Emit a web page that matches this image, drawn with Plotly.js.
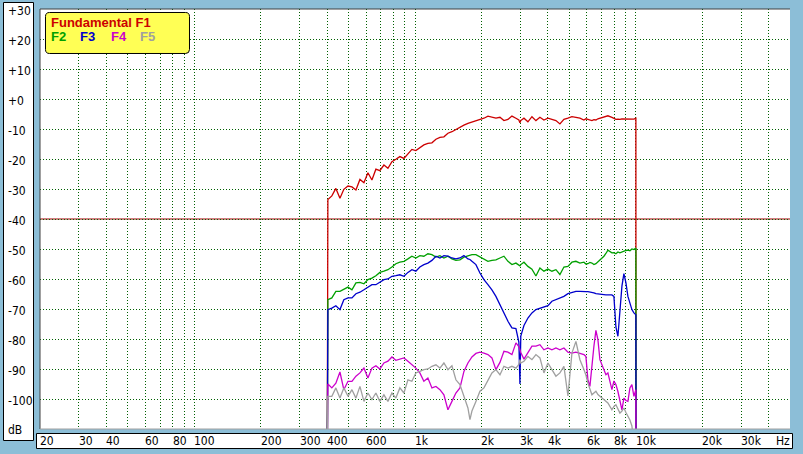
<!DOCTYPE html>
<html>
<head>
<meta charset="utf-8">
<script src="https://cdn.plot.ly/plotly-3.0.1.min.js"></script>
<style>
  html, body { margin: 0; padding: 0; background: #8cbed7; }
  #chart { width: 803px; height: 454px; }
</style>
</head>
<body>
<div id="chart"></div>
<script>
// ---- data (frequency in Hz, level in dB) ----
const freqs = [400,
  403,420,438,457,476,497,518,540,563,587,
  612,638,665,693,723,754,786,819,854,891,
  929,968,1009,1052,1097,1144,1193,1244,1297,1352,
  1410,1470,1532,1598,1666,1737,1774,1811,1888,1969,
  2053,2140,2231,2326,2426,2529,2637,2749,2866,2955,
  2988,3015,3116,3248,3387,3531,3681,3838,4002,4172,
  4350,4535,4728,4930,5140,5359,5587,5825,5947,6073,
  6200,6332,6465,6601,6740,6883,7176,7327,7481,7800,
  7965,8133,8305,8479,8660,8840,9029,9217,9413,9609,
  9813,10018,
  10030];

const f1 = [-130,
  -33.5,-32.3,-29.8,-33.1,-30.1,-29.0,-29.3,-30.3,-26.8,-27.9,
  -24.6,-27.0,-23.4,-23.9,-22.0,-23.1,-20.9,-20.1,-19.2,-19.8,
  -18.3,-16.8,-17.2,-16.1,-15.3,-14.8,-14.6,-13.4,-12.8,-12.6,
  -11.4,-10.9,-10.1,-9.4,-8.7,-8.1,-7.9,-7.6,-7.2,-6.8,
  -6.4,-5.7,-6.1,-6.4,-6.1,-7.2,-6.8,-5.7,-6.4,-7.0,
  -7.9,-7.2,-6.4,-7.6,-5.9,-7.2,-6.1,-7.0,-6.4,-6.8,
  -7.2,-8.3,-6.8,-6.4,-5.9,-6.1,-6.4,-7.0,-6.6,-6.8,
  -7.0,-7.2,-6.9,-7.0,-6.6,-6.4,-6.1,-5.8,-5.6,-6.1,
  -6.5,-6.8,-6.7,-6.8,-6.6,-6.6,-6.7,-6.6,-6.7,-6.8,
  -6.7,-6.4,
  -130];

const f2 = [-130,
  -66.9,-66.3,-64.1,-64.1,-63.3,-62.7,-63.6,-61.3,-61.1,-61.6,
  -60.2,-59.7,-58.9,-57.8,-57.4,-56.9,-56.0,-54.9,-54.4,-54.1,
  -53.3,-52.4,-53.0,-52.2,-52.4,-51.6,-51.9,-52.7,-52.2,-53.0,
  -52.4,-53.3,-53.8,-53.6,-52.7,-52.2,-52.0,-51.9,-51.9,-52.7,
  -53.6,-54.1,-53.8,-53.6,-53.0,-52.4,-54.1,-55.2,-54.7,-55.3,
  -55.6,-55.2,-54.4,-55.8,-56.7,-59.0,-56.3,-57.4,-56.7,-57.4,
  -56.9,-58.5,-56.0,-55.8,-54.4,-54.1,-54.7,-54.4,-55.0,-54.9,
  -54.5,-54.7,-55.2,-54.9,-54.3,-53.6,-52.4,-51.5,-50.4,-51.3,
  -51.2,-51.6,-51.0,-51.3,-51.0,-50.8,-50.5,-50.4,-50.6,-50.0,
  -50.2,-49.7,
  -130];

const f3 = [-130,
  -70.2,-69.7,-68.9,-70.2,-66.9,-66.3,-66.3,-64.9,-64.4,-63.6,
  -62.7,-61.9,-61.9,-61.1,-60.2,-60.0,-59.1,-58.9,-58.6,-59.1,
  -57.8,-56.9,-57.4,-56.0,-55.2,-54.7,-53.8,-52.4,-53.0,-52.2,
  -52.4,-53.0,-53.3,-53.0,-52.2,-53.3,-53.5,-54.1,-55.2,-58.0,
  -60.2,-61.9,-63.6,-65.8,-68.6,-70.8,-74.1,-76.3,-76.5,-81.0,
  -95.0,-79.0,-75.5,-73.0,-71.3,-70.2,-69.7,-69.3,-68.9,-67.4,
  -66.9,-66.3,-65.8,-64.9,-64.4,-64.1,-64.1,-64.3,-64.2,-64.2,
  -64.3,-64.4,-64.6,-64.9,-65.0,-65.2,-65.2,-65.3,-65.3,-65.3,
  -65.8,-76.0,-79.1,-71.3,-62.4,-58.2,-61.3,-65.8,-68.5,-70.2,
  -71.3,-71.9,
  -130];

const f4 = [-130,
  -95.0,-96.3,-94.7,-91.0,-96.9,-94.1,-94.1,-92.4,-91.3,-89.7,
  -93.0,-89.7,-88.9,-90.0,-88.0,-87.4,-86.0,-87.1,-86.7,-86.3,
  -87.4,-88.6,-89.7,-91.3,-94.1,-93.0,-96.3,-95.8,-96.9,-98.6,
  -103.6,-100.8,-98.0,-96.3,-90.8,-88.0,-87.0,-86.0,-84.8,-84.4,
  -84.7,-85.2,-86.3,-90.2,-87.8,-84.1,-84.4,-85.2,-81.3,-82.5,
  -83.6,-84.5,-86.7,-84.7,-82.4,-82.4,-81.9,-83.6,-83.0,-83.6,
  -83.0,-83.6,-83.0,-84.4,-84.7,-84.4,-84.7,-85.2,-85.8,-93.6,
  -95.8,-88.0,-82.4,-77.1,-80.2,-86.9,-90.2,-91.9,-91.3,-96.9,
  -94.0,-95.2,-97.5,-100.2,-103.6,-99.7,-100.5,-100.8,-96.3,-95.2,
  -99.1,-96.9,
  -130];

const f5 = [-130,
  -99.1,-99.1,-96.3,-99.7,-96.3,-99.1,-96.9,-99.7,-95.8,-100.8,
  -98.0,-100.2,-98.0,-100.8,-98.6,-100.8,-98.0,-99.7,-96.3,-98.0,
  -93.6,-94.1,-91.3,-90.8,-90.2,-90.0,-89.1,-88.6,-89.7,-88.0,
  -90.2,-88.9,-93.6,-95.2,-99.1,-103.0,-106.9,-104.0,-100.8,-97.4,
  -96.3,-93.6,-91.3,-90.2,-91.9,-89.1,-89.7,-89.1,-89.7,-88.5,
  -86.9,-88.0,-87.4,-85.8,-86.9,-85.2,-86.3,-91.3,-88.0,-90.2,
  -92.4,-91.3,-89.1,-99.0,-84.7,-80.8,-86.9,-90.2,-92.0,-94.7,
  -96.5,-98.6,-98.0,-97.4,-98.5,-99.1,-100.2,-100.8,-101.3,-103.6,
  -102.5,-101.9,-103.5,-104.7,-104.0,-103.0,-104.5,-105.8,-107.0,-109.0,
  -115.0,-130.0,
  -130];

const seriesNames = ['Fundamental F1', 'F2', 'F3', 'F4', 'F5'];
const seriesColors = ['#cc0000', '#00a000', '#0000cc', '#cc00cc', '#a0a0a0'];

const xGridHz = [20,30,40,50,60,70,80,90,100,200,300,400,500,600,700,800,900,
                 1000,2000,3000,4000,5000,6000,7000,8000,9000,10000,20000,30000,40000,50000];
const xLabelHz = [20,30,40,60,80,100,200,300,400,600,1000,2000,3000,4000,6000,8000,10000,20000,30000];
const xLabelText = ['20','30','40','60','80','100','200','300','400','600','1k','2k','3k','4k','6k','8k','10k','20k','30k'];
const yTickDb = [30,20,10,0,-10,-20,-30,-40,-50,-60,-70,-80,-90,-100];
const yLabelText = ['+30','+20','+10','+0','-10','-20','-30','-40','-50','-60','-70','-80','-90','-100'];
const referenceDb = -40;

// ---- layout helpers (pixel -> paper) ----
const W = 803, H = 454, ML = 40, MR = 13, MT = 9, MB = 25;
const PW = W - ML - MR, PH = H - MT - MB;
const px = p => (p - ML) / PW;
const py = p => (H - MB - p) / PH;

const traces = [f1, f2, f3, f4, f5].map((ys, i) => ({
  type: 'scatter', mode: 'lines', x: freqs, y: ys, name: seriesNames[i],
  line: { color: seriesColors[i], width: 1.3 }, hoverinfo: 'skip'
}));

function roundRect(x0, y0, x1, y1, r) {
  const X = v => px(v).toFixed(5), Y = v => py(v).toFixed(5);
  return 'M' + X(x0 + r) + ',' + Y(y0) + ' L' + X(x1 - r) + ',' + Y(y0) +
    ' Q' + X(x1) + ',' + Y(y0) + ' ' + X(x1) + ',' + Y(y0 + r) +
    ' L' + X(x1) + ',' + Y(y1 - r) +
    ' Q' + X(x1) + ',' + Y(y1) + ' ' + X(x1 - r) + ',' + Y(y1) +
    ' L' + X(x0 + r) + ',' + Y(y1) +
    ' Q' + X(x0) + ',' + Y(y1) + ' ' + X(x0) + ',' + Y(y1 - r) +
    ' L' + X(x0) + ',' + Y(y0 + r) +
    ' Q' + X(x0) + ',' + Y(y0) + ' ' + X(x0 + r) + ',' + Y(y0) + ' Z';
}

const narrow = 'Liberation Sans Narrow, Arial Narrow, DejaVu Sans Condensed, Liberation Sans, sans-serif';
const shapes = [
  // reference line
  { type: 'line', xref: 'paper', x0: 0, x1: 1, yref: 'y', y0: referenceDb, y1: referenceDb,
    line: { color: '#a00000', width: 1 }, layer: 'below' },
  // plot frame (sunken)
  { type: 'line', xref: 'paper', yref: 'paper', x0: 0, x1: 1, y0: 1, y1: 1, line: { color: '#404040', width: 1 } },
  { type: 'line', xref: 'paper', yref: 'paper', x0: 0, x1: 0, y0: 0, y1: 1, line: { color: '#404040', width: 1 } },
  { type: 'line', xref: 'paper', yref: 'paper', x0: 0, x1: 1, y0: 0, y1: 0, line: { color: '#a0a0a0', width: 1 } },
  // left label panel
  { type: 'rect', xref: 'paper', yref: 'paper', x0: px(3.5), x1: px(33.5), y0: py(440.5), y1: py(2.5),
    fillcolor: 'white', line: { color: 'black', width: 1 } },
  // bottom label panel
  { type: 'rect', xref: 'paper', yref: 'paper', x0: px(36.5), x1: px(792.5), y0: py(448.5), y1: py(433.5),
    fillcolor: 'white', line: { color: 'black', width: 1 } },
  // legend box
  { type: 'path', xref: 'paper', yref: 'paper', path: roundRect(45.5, 12.5, 189.5, 53.5, 4),
    fillcolor: '#ffff55', line: { color: 'black', width: 1 } }
];

const annotations = [];
yTickDb.forEach((v, i) => annotations.push({
  text: yLabelText[i], xref: 'paper', x: px(6), xanchor: 'left', yref: 'y', y: v, yanchor: 'middle',
  yshift: -2, showarrow: false, font: { family: narrow, size: 12, color: 'black' }
}));
annotations.push({ text: 'dB', xref: 'paper', x: px(6), xanchor: 'left', yref: 'paper', y: py(430), yanchor: 'middle',
  showarrow: false, font: { family: narrow, size: 12, color: 'black' } });
xLabelHz.forEach((f, i) => annotations.push({
  text: xLabelText[i], xref: 'x', x: Math.log10(f), xanchor: 'left', yref: 'paper', y: py(441), yanchor: 'middle',
  xshift: -2, showarrow: false, font: { family: narrow, size: 12, color: 'black' }
}));
annotations.push({ text: 'Hz', xref: 'paper', x: px(774), xanchor: 'left', yref: 'paper', y: py(441), yanchor: 'middle',
  showarrow: false, font: { family: narrow, size: 12, color: 'black' } });
// legend texts
const legFont = c => ({ family: 'Liberation Sans, Arial, sans-serif', size: 13, color: c, weight: 'bold' });
annotations.push({ text: '<b>' + seriesNames[0] + '</b>', xref: 'paper', x: px(49), xanchor: 'left',
  yref: 'paper', y: py(22.5), yanchor: 'middle', showarrow: false, font: legFont(seriesColors[0]) });
const legX = [49, 78, 109, 138];
for (let i = 1; i < 5; i++) {
  annotations.push({ text: '<b>' + seriesNames[i] + '</b>', xref: 'paper', x: px(legX[i - 1]), xanchor: 'left',
    yref: 'paper', y: py(37), yanchor: 'middle', showarrow: false, font: legFont(seriesColors[i]) });
}

const gridStyle = { showgrid: true, gridcolor: '#006000', gridwidth: 1, griddash: '1px,2px',
  zeroline: false, showline: false, ticks: '', showticklabels: false, fixedrange: true };

const layout = {
  width: W, height: H,
  margin: { l: ML, r: MR, t: MT, b: MB, pad: 0 },
  paper_bgcolor: '#8cbed7', plot_bgcolor: 'white',
  showlegend: false,
  xaxis: Object.assign({ type: 'log', range: [Math.log10(20), Math.log10(50000)], tickmode: 'array', tickvals: xGridHz }, gridStyle),
  yaxis: Object.assign({ range: [-110, 30], tickmode: 'array', tickvals: yTickDb }, gridStyle),
  shapes: shapes,
  annotations: annotations
};

Plotly.newPlot('chart', traces, layout, { staticPlot: true, displayModeBar: false });
</script>
</body>
</html>
